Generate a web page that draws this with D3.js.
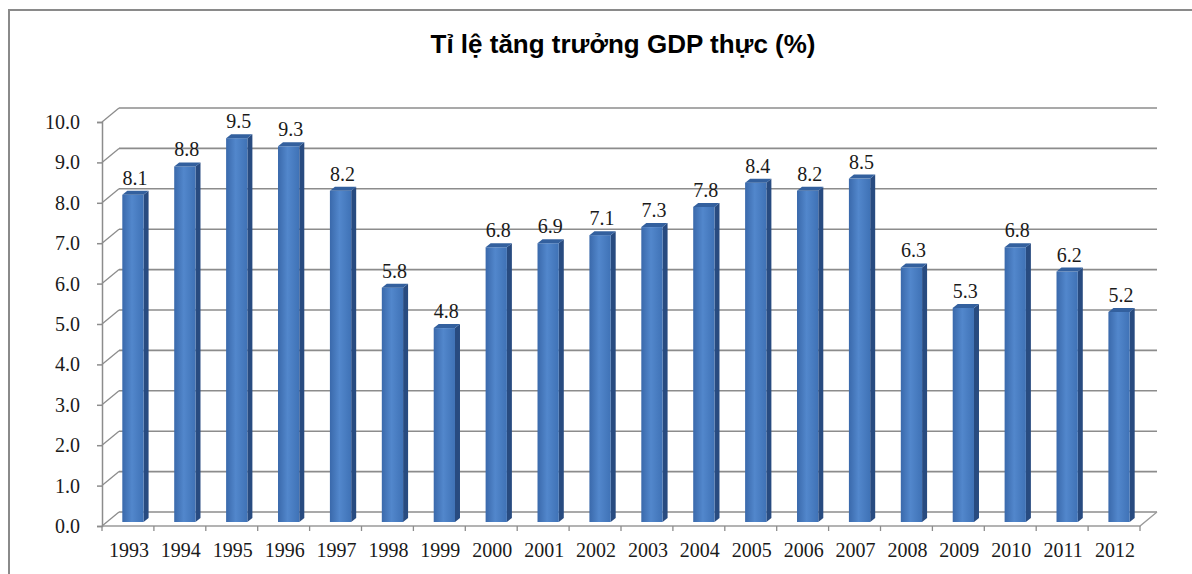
<!DOCTYPE html>
<html>
<head>
<meta charset="utf-8">
<script src="https://cdn.jsdelivr.net/npm/d3@7"></script>
<style>
  body { margin: 0; background: #fff; }
  svg { display: block; }
</style>
</head>
<body>
<div id="chart"></div>
<script>
var svgWidth = 1192;
var svgHeight = 574;

// chart data
var years = ["1993", "1994", "1995", "1996", "1997", "1998", "1999", "2000", "2001", "2002",
  "2003", "2004", "2005", "2006", "2007", "2008", "2009", "2010", "2011", "2012"];
var growth = [8.1, 8.8, 9.5, 9.3, 8.2, 5.8, 4.8, 6.8, 6.9, 7.1,
  7.3, 7.8, 8.4, 8.2, 8.5, 6.3, 5.3, 6.8, 6.2, 5.2];
var yTicks = [0, 1, 2, 3, 4, 5, 6, 7, 8, 9, 10];
var title = "Tỉ lệ tăng trưởng GDP thực (%)";

// 3d depth offsets of the back wall
var depthX = 17;
var depthY = -14;

var svg = d3.select("#chart")
  .append("svg")
  .attr("width", svgWidth)
  .attr("height", svgHeight);

// gradient for the bar front
var defs = svg.append("defs");
var grad = defs.append("linearGradient")
  .attr("id", "barFront")
  .attr("x1", "0").attr("x2", "1").attr("y1", "0").attr("y2", "0");
grad.append("stop").attr("offset", "0%").attr("stop-color", "#3a69ab");
grad.append("stop").attr("offset", "45%").attr("stop-color", "#5287cc");
grad.append("stop").attr("offset", "100%").attr("stop-color", "#3f72b6");

// outer frame
svg.append("path")
  .attr("d", "M9,580 L9,10 L1200,10")
  .attr("fill", "none")
  .attr("stroke", "#8a8a8a")
  .attr("stroke-width", 2);

var x = d3.scaleBand()
  .domain(years)
  .range([102, 1140])
  .padding(0);

var y = d3.scaleLinear()
  .domain([0, 10])
  .range([526, 122]);

var chartGroup = svg.append("g");

// back wall gridlines
chartGroup.selectAll(".grid")
  .data(yTicks)
  .enter()
  .append("line")
  .attr("class", "grid")
  .attr("x1", 102 + depthX)
  .attr("x2", 1140 + depthX)
  .attr("y1", d => y(d) + depthY)
  .attr("y2", d => y(d) + depthY)
  .attr("stroke", "#8c8c8c")
  .attr("stroke-width", 1.6);

// side wall diagonals
chartGroup.selectAll(".diag")
  .data(yTicks)
  .enter()
  .append("line")
  .attr("class", "diag")
  .attr("x1", 102)
  .attr("x2", 102 + depthX)
  .attr("y1", d => y(d))
  .attr("y2", d => y(d) + depthY)
  .attr("stroke", "#8c8c8c")
  .attr("stroke-width", 1.3);

// floor outline
chartGroup.append("path")
  .attr("d", `M102,${y(0)} L1140,${y(0)} L${1140 + depthX},${y(0) + depthY}`)
  .attr("fill", "none")
  .attr("stroke", "#9a9a9a")
  .attr("stroke-width", 1.3);

// y axis
var leftAxis = d3.axisLeft(y)
  .tickValues(yTicks)
  .tickSize(5)
  .tickPadding(17)
  .tickFormat(d3.format(".1f"));

var yAxisG = chartGroup.append("g")
  .attr("transform", "translate(102,0)")
  .call(leftAxis);
yAxisG.select(".domain").attr("stroke", "#8c8c8c").attr("stroke-width", 1.5);
yAxisG.selectAll(".tick line").attr("stroke", "#8c8c8c").attr("stroke-width", 1.5);
yAxisG.selectAll("text")
  .attr("fill", "#1a1a1a")
  .attr("font-family", "'Liberation Serif', 'Times New Roman', serif")
  .attr("font-size", "20px");

// x axis (ticks at category boundaries)
var xAxisG = chartGroup.append("g")
  .attr("transform", `translate(0,${y(0)})`);
xAxisG.selectAll(".xtick")
  .data(years.concat(["end"]))
  .enter()
  .append("line")
  .attr("class", "xtick")
  .attr("x1", (d, i) => x.range()[0] + i * x.step())
  .attr("x2", (d, i) => x.range()[0] + i * x.step())
  .attr("y1", 0)
  .attr("y2", 5)
  .attr("stroke", "#8c8c8c")
  .attr("stroke-width", 1.3);
xAxisG.selectAll(".xlabel")
  .data(years)
  .enter()
  .append("text")
  .attr("class", "xlabel")
  .attr("x", d => x(d) + x.bandwidth() / 2 + 1)
  .attr("y", 31)
  .attr("text-anchor", "middle")
  .attr("fill", "#1a1a1a")
  .attr("font-family", "'Liberation Serif', 'Times New Roman', serif")
  .attr("font-size", "20px")
  .text(d => d);

// bars (3d look: front, side, top)
var barW = x.bandwidth() * 0.41;
var offX = 6, offY = -4;   // bar sits a bit behind the front edge
var sideX = 5, sideY = -4; // bar depth

var data = years.map((yr, i) => ({ year: yr, value: growth[i] }));

var bars = chartGroup.selectAll(".bar")
  .data(data)
  .enter()
  .append("g")
  .attr("class", "bar");

function bx(d) { return x(d.year) + x.bandwidth() / 2 - barW / 2 + offX - 1; }
function btop(d) { return y(d.value) + offY; }
function bbot() { return y(0) + offY; }

bars.append("path")
  .attr("d", d => {
    var x0 = bx(d) + barW, t = btop(d), b = bbot();
    return `M${x0},${b} L${x0},${t} L${x0 + sideX},${t + sideY} L${x0 + sideX},${b + sideY} Z`;
  })
  .attr("fill", "#284b80");

bars.append("rect")
  .attr("x", d => bx(d))
  .attr("y", d => btop(d))
  .attr("width", barW)
  .attr("height", d => bbot() - btop(d))
  .attr("fill", "url(#barFront)");

bars.append("path")
  .attr("d", d => {
    var x0 = bx(d), t = btop(d);
    return `M${x0},${t} L${x0 + barW},${t} L${x0 + barW + sideX},${t + sideY} L${x0 + sideX},${t + sideY} Z`;
  })
  .attr("fill", "#33609e");

// value labels
bars.append("text")
  .attr("x", d => bx(d) + barW / 2 + 2)
  .attr("y", d => btop(d) - 10)
  .attr("text-anchor", "middle")
  .attr("fill", "#1a1a1a")
  .attr("font-family", "'Liberation Serif', 'Times New Roman', serif")
  .attr("font-size", "20px")
  .text(d => d.value.toFixed(1));

// title
svg.append("text")
  .attr("x", 623)
  .attr("y", 53)
  .attr("text-anchor", "middle")
  .attr("fill", "#000")
  .attr("font-family", "'Liberation Sans', Arial, sans-serif")
  .attr("font-weight", "bold")
  .attr("font-size", "26px")
  .text(title);
</script>
</body>
</html>
